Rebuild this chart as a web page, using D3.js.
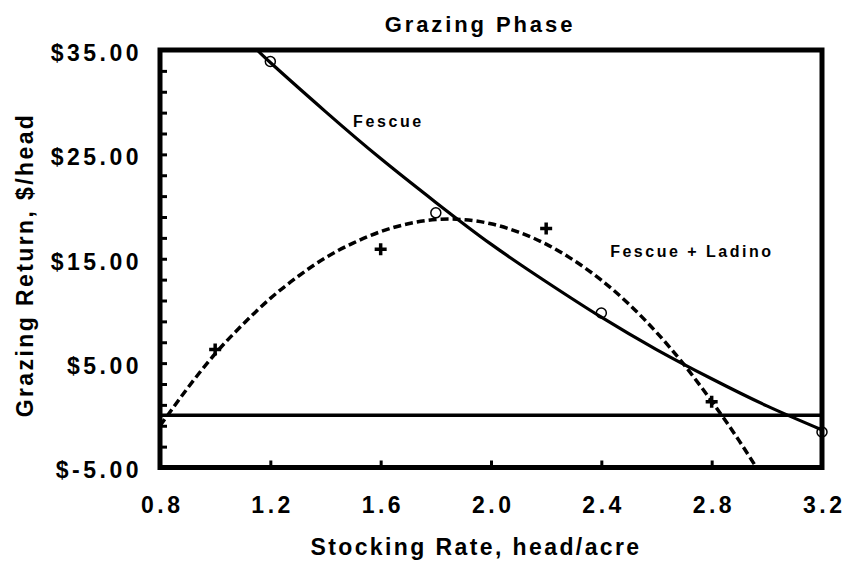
<!DOCTYPE html>
<meta charset="utf-8">
<style>
body { margin: 0; background: #fff; }
svg { display: block; font-family: "Liberation Sans", Arial, sans-serif; font-weight: bold; }
.frame { fill: none; stroke: #000; stroke-width: 5; }
.axis path { display: none; }
.axis line { stroke: #000; stroke-width: 3; }
.axis text { font-size: 23px; letter-spacing: 3.5px; fill: #000; }
</style>
<svg width="849" height="563"></svg>
<script src="https://d3js.org/d3.v7.min.js"></script>
<script>
// tick values and labels
var xTicks = [0.8, 1.2, 1.6, 2.0, 2.4, 2.8, 3.2];
var xTickLabels = ["0.8", "1.2", "1.6", "2.0", "2.4", "2.8", "3.2"];
var yTicks = [-5, 5, 15, 25, 35];
var yTickLabels = ["$-5.00", "$5.00", "$15.00", "$25.00", "$35.00"];
var yMinor = [-3, -1, 1, 3, 7, 9, 11, 13, 17, 19, 21, 23, 27, 29, 31, 33];

// fitted curves
var fescueX = [1.15, 1.2, 1.4, 1.6, 1.8, 2.0, 2.2, 2.4, 2.6, 2.8, 3.0, 3.2];
var fescueY = [35.1, 33.8, 29.1, 24.6, 20.4, 16.4, 12.8, 9.4, 6.3, 3.5, 0.9, -1.4];
var ladinoX = [0.8, 0.9, 1.0, 1.1, 1.2, 1.3, 1.4, 1.5, 1.6, 1.7, 1.8, 1.9, 2.0, 2.1, 2.2, 2.3, 2.4, 2.5, 2.6, 2.7, 2.8, 2.9, 3.0];
var ladinoY = [-1.0, 2.6, 5.9, 8.7, 11.2, 13.3, 15.1, 16.5, 17.6, 18.35, 18.75, 18.75, 18.35, 17.55, 16.4, 14.85, 12.95, 10.65, 7.95, 4.85, 1.35, -2.45, -6.6];

// observed points
var fescuePtX = [1.2, 1.8, 2.4, 3.2];
var fescuePtY = [33.9, 19.4, 9.8, -1.6];
var ladinoPtX = [1.0, 1.6, 2.2, 2.8];
var ladinoPtY = [6.3, 15.9, 17.9, 1.3];

var svg = d3.select("svg");
var pLeft = 160, pRight = 822, pTop = 50, pBottom = 467.5;

var x = d3.scaleLinear().domain([0.8, 3.2]).range([pLeft, pRight]);
var y = d3.scaleLinear().domain([-5, 35]).range([pBottom, pTop]);

svg.append("clipPath").attr("id", "plot")
  .append("rect")
  .attr("x", pLeft).attr("y", pTop)
  .attr("width", pRight - pLeft).attr("height", pBottom - pTop);

// title
svg.append("text")
  .attr("x", 480).attr("y", 32)
  .attr("text-anchor", "middle")
  .style("font-size", "22px").style("letter-spacing", "2.9px")
  .text("Grazing Phase");

// axes
svg.append("g")
  .attr("class", "axis")
  .attr("transform", "translate(0," + pBottom + ")")
  .call(d3.axisBottom(x).tickValues(xTicks).tickSize(-7).tickPadding(0)
    .tickFormat(function(d, i) { return xTickLabels[i]; }))
  .selectAll("text")
  .attr("y", 45).attr("dy", 0).attr("dx", "1.75px");

svg.append("g")
  .attr("class", "axis")
  .attr("transform", "translate(" + pLeft + ",0)")
  .call(d3.axisLeft(y).tickValues(yTicks).tickSize(-7).tickPadding(18)
    .tickFormat(function(d, i) { return yTickLabels[i]; }))
  .selectAll("text")
  .attr("dy", "0.45em");

svg.append("g")
  .attr("class", "axis")
  .attr("transform", "translate(" + pLeft + ",0)")
  .call(d3.axisLeft(y).tickValues(yMinor).tickSize(-7).tickFormat(""));

// axis titles
svg.append("text")
  .attr("x", 476).attr("y", 555)
  .attr("text-anchor", "middle")
  .style("font-size", "23px").style("letter-spacing", "2.4px")
  .text("Stocking Rate, head/acre");

svg.append("text")
  .attr("transform", "translate(33,265) rotate(-90)")
  .attr("text-anchor", "middle")
  .style("font-size", "23px").style("letter-spacing", "2.4px")
  .text("Grazing Return, $/head");

// zero line
svg.append("line")
  .attr("x1", pLeft).attr("x2", pRight)
  .attr("y1", y(0)).attr("y2", y(0))
  .attr("stroke", "#000").attr("stroke-width", 3.5);

// points
svg.selectAll(".circ")
  .data(fescuePtX)
  .enter().append("circle")
  .attr("class", "circ")
  .attr("cx", function(d) { return x(d); })
  .attr("cy", function(d, i) { return y(fescuePtY[i]); })
  .attr("r", 5)
  .attr("fill", "#fff").attr("stroke", "#000").attr("stroke-width", 1.5);

svg.selectAll(".plus")
  .data(ladinoPtX)
  .enter().append("path")
  .attr("class", "plus")
  .attr("d", function(d, i) {
    var cx = x(d), cy = y(ladinoPtY[i]);
    return "M" + (cx - 6) + "," + cy + "H" + (cx + 6) + "M" + cx + "," + (cy - 6) + "V" + (cy + 6);
  })
  .attr("stroke", "#000").attr("stroke-width", 3.5);

// curves
var line = d3.line().curve(d3.curveNatural);

svg.append("path")
  .attr("clip-path", "url(#plot)")
  .attr("d", line(fescueX.map(function(d, i) { return [x(d), y(fescueY[i])]; })))
  .attr("fill", "none").attr("stroke", "#000").attr("stroke-width", 3.2);

svg.append("path")
  .attr("clip-path", "url(#plot)")
  .attr("d", line(ladinoX.map(function(d, i) { return [x(d), y(ladinoY[i])]; })))
  .attr("fill", "none").attr("stroke", "#000").attr("stroke-width", 3.5)
  .attr("stroke-dasharray", "8,4");

// curve labels
svg.append("text")
  .attr("x", x(1.5)).attr("y", y(27.6))
  .style("font-size", "16px").style("letter-spacing", "2.6px")
  .text("Fescue");

svg.append("text")
  .attr("x", x(2.432)).attr("y", y(15.15))
  .style("font-size", "16px").style("letter-spacing", "2.5px")
  .text("Fescue + Ladino");

// frame
svg.append("rect")
  .attr("class", "frame")
  .attr("x", pLeft).attr("y", pTop)
  .attr("width", pRight - pLeft).attr("height", pBottom - pTop);
</script>
